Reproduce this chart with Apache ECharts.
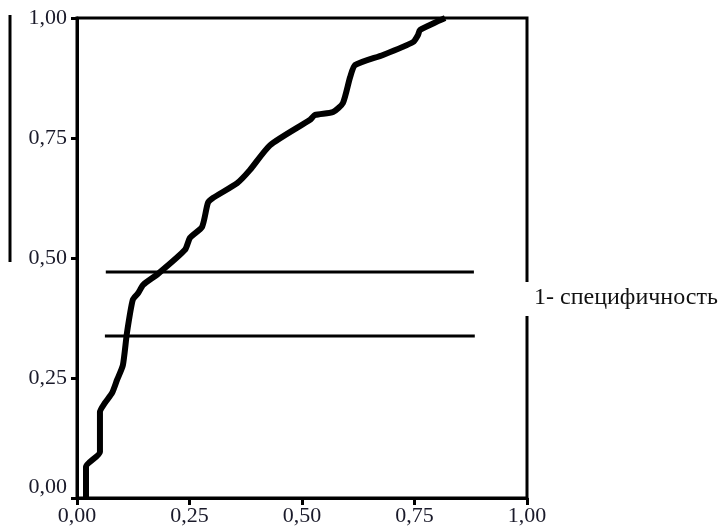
<!DOCTYPE html>
<html>
<head>
<meta charset="utf-8">
<script src="https://cdn.jsdelivr.net/npm/echarts@6/dist/echarts.min.js"></script>
<style>
html,body{margin:0;padding:0;background:#fff;}
#roc{width:720px;height:527px;}
</style>
</head>
<body>
<div id="roc"></div>
<script>
// ROC curve, values
var rocX = [0.020, 0.020, 0.051, 0.051, 0.062, 0.078, 0.089, 0.102, 0.111, 0.124, 0.136, 0.147, 0.180, 0.240, 0.251, 0.278, 0.291, 0.302, 0.356, 0.384, 0.429, 0.518, 0.529, 0.569, 0.591, 0.607, 0.618, 0.680, 0.747, 0.758, 0.762, 0.818]
var rocY = [0.000, 0.065, 0.096, 0.179, 0.198, 0.219, 0.246, 0.277, 0.344, 0.413, 0.427, 0.444, 0.467, 0.517, 0.542, 0.565, 0.615, 0.625, 0.656, 0.683, 0.735, 0.788, 0.798, 0.804, 0.823, 0.877, 0.902, 0.923, 0.950, 0.965, 0.975, 1.000]
// two horizontal reference lines
var upperLineX = [0.064, 0.882]
var upperLineY = 0.471
var lowerLineX = [0.062, 0.884]
var lowerLineY = 0.3375
var tickVals = [0, 0.25, 0.5, 0.75, 1]
var sideLabel = '1- специфичность'

function fmt(v){ return v.toFixed(2).replace('.', ',') }

var rocData = rocX.map(function(x, i){ return [x, rocY[i]] })
var upperData = upperLineX.map(function(x){ return [x, upperLineY] })
var lowerData = lowerLineX.map(function(x){ return [x, lowerLineY] })

var chart = echarts.init(document.getElementById('roc'))
chart.setOption({
    backgroundColor: '#fff',
    animation: false,
    grid: {
        left: 77, right: 193, top: 18, bottom: 29,
        show: true,
        borderColor: '#000',
        borderWidth: 3
    },
    xAxis: {
        type: 'value',
        min: 0, max: 1, interval: 0.25,
        axisLine: {lineStyle: {color: '#000', width: 3}},
        axisTick: {show: true, length: 7, lineStyle: {color: '#000', width: 3}},
        splitLine: {show: false},
        axisLabel: {
            formatter: fmt,
            fontFamily: 'Liberation Serif',
            fontSize: 22,
            color: '#1a1a2a',
            margin: 7
        }
    },
    yAxis: {
        type: 'value',
        min: 0, max: 1, interval: 0.25,
        axisLine: {lineStyle: {color: '#000', width: 3}},
        axisTick: {show: true, length: 6, lineStyle: {color: '#000', width: 3}},
        splitLine: {show: false},
        axisLabel: {
            formatter: fmt,
            fontFamily: 'Liberation Serif',
            fontSize: 22,
            color: '#1a1a2a',
            margin: 10,
            verticalAlignMinLabel: 'bottom'
        }
    },
    series: [
        {
            type: 'line',
            data: rocData,
            smooth: 0.2,
            showSymbol: false,
            lineStyle: {color: '#000', width: 6}
        },
        {
            type: 'line',
            data: upperData,
            showSymbol: false,
            lineStyle: {color: '#000', width: 3}
        },
        {
            type: 'line',
            data: lowerData,
            showSymbol: false,
            lineStyle: {color: '#000', width: 3}
        }
    ],
    graphic: [
        {
            type: 'line',
            shape: {x1: 10, y1: 15, x2: 10, y2: 262},
            style: {stroke: '#000', lineWidth: 3}
        },
        {
            type: 'text',
            left: 524,
            top: 282,
            z: 100,
            style: {
                text: sideLabel,
                fontFamily: 'Liberation Serif',
                fontSize: 24,
                fill: '#111',
                backgroundColor: '#fff',
                padding: [4, 0, 6, 10]
            }
        }
    ]
})
</script>
</body>
</html>
